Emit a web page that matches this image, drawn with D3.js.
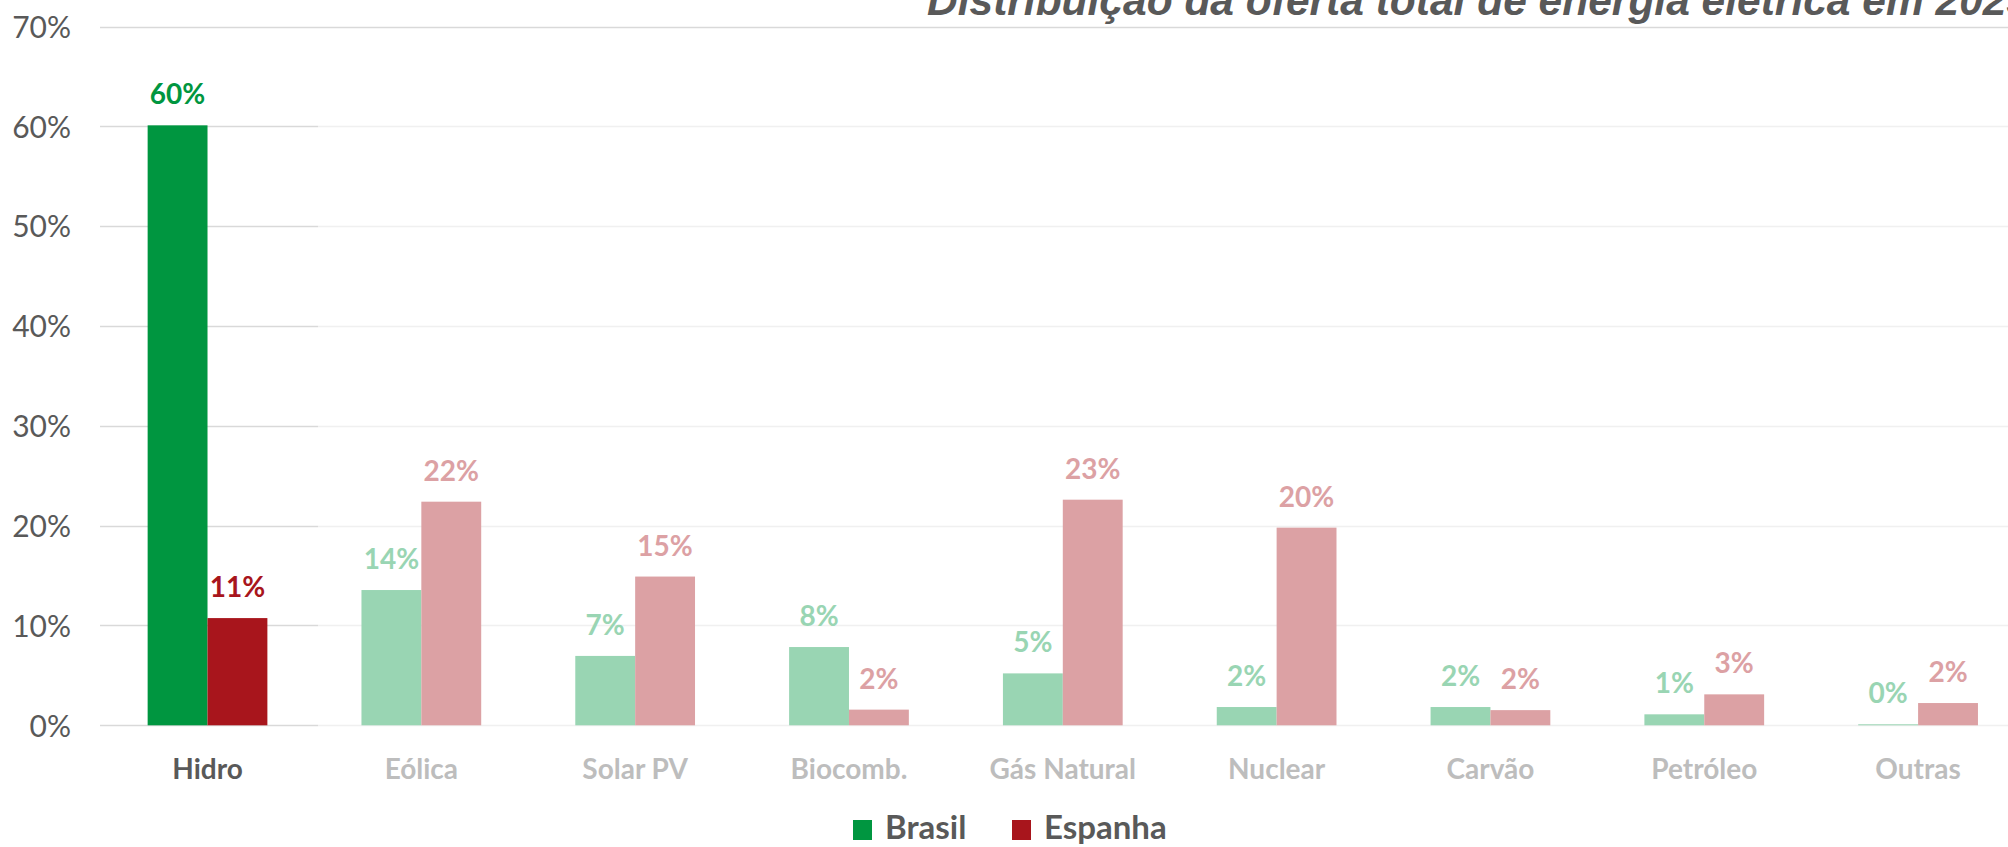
<!DOCTYPE html>
<html>
<head>
<meta charset="utf-8">
<script src="https://cdn.jsdelivr.net/npm/d3@7"></script>
<style>
  html, body { margin: 0; padding: 0; background: #ffffff; overflow: hidden; }
  svg { display: block; }
</style>
</head>
<body>
<script>
// ---- data ----
const categories = ["Hidro", "Eólica", "Solar PV", "Biocomb.", "Gás Natural", "Nuclear", "Carvão", "Petróleo", "Outras"];
const seriesNames = ["Brasil", "Espanha"];
const brasil  = [0.601, 0.1355, 0.0695, 0.0784, 0.052, 0.0183, 0.0183, 0.011, 0.001];
const espanha = [0.1074, 0.224, 0.149, 0.0157, 0.226, 0.198, 0.0152, 0.031, 0.0223];
const yTicks = [0, 0.1, 0.2, 0.3, 0.4, 0.5, 0.6, 0.7];
const highlighted = "Hidro";
const titleText = "Distribuição da oferta total de energia elétrica em 2023";

// ---- layout / style ----
const W = 2008, H = 847;
const colors = { Brasil: "#009640", Espanha: "#a8151c" };
const textGray = "#595959";
const fadeAmt = 0.6;
const fade = c => d3.interpolateRgb(c, "#ffffff")(fadeAmt);

const svg = d3.select("body").append("svg").attr("width", W).attr("height", H);

const y = d3.scaleLinear().domain([0, 0.7]).range([725.3, 26.5]);
const x0 = d3.scaleBand().domain(categories).range([100.6, 2025]).paddingInner(0.44).paddingOuter(0.22);
const x1 = d3.scaleBand().domain(seriesNames).range([0, x0.bandwidth()]).padding(0);
const fmt = d3.format(".0%");

// title (partially cropped at top / right, as in the reference)
svg.append("text")
  .attr("x", 927).attr("y", 15)
  .attr("font-family", "'Liberation Sans', Arial, sans-serif")
  .attr("font-weight", "bold").attr("font-style", "italic")
  .attr("font-size", 42.5).attr("fill", textGray)
  .text(titleText);

// gridlines: darker over highlighted region, faded beyond
const splitX = 318;
const grid = svg.append("g");
yTicks.forEach(t => {
  const yy = Math.round(y(t)) + 0.5;
  const top = t === 0.7;
  grid.append("line").attr("x1", 100).attr("x2", top ? W : splitX)
    .attr("y1", yy).attr("y2", yy).attr("stroke", "#d9d9d9").attr("stroke-width", 1.5);
  if (!top) {
    grid.append("line").attr("x1", splitX).attr("x2", W)
      .attr("y1", yy).attr("y2", yy).attr("stroke", fade("#d9d9d9")).attr("stroke-width", 1.5);
  }
});

// y axis labels
const yAxis = d3.axisLeft(y).tickValues(yTicks).tickFormat(fmt).tickSize(0).tickPadding(0);
const ga = svg.append("g").attr("transform", "translate(71,0)").call(yAxis);
ga.select(".domain").remove();
ga.selectAll("text")
  .attr("font-family", "Lato, 'Open Sans', sans-serif")
  .attr("font-size", 30).attr("fill", textGray).attr("dy", "0.36em");

// bars
const rows = categories.map((c, i) => ({ cat: c, vals: [
  { s: "Brasil", v: brasil[i] }, { s: "Espanha", v: espanha[i] } ] }));

const groups = svg.append("g").selectAll("g").data(rows).join("g")
  .attr("transform", d => `translate(${x0(d.cat)},0)`);

groups.selectAll("rect").data(d => d.vals.map(v => ({ ...v, cat: d.cat }))).join("rect")
  .attr("x", d => x1(d.s))
  .attr("width", x1.bandwidth())
  .attr("y", d => y(d.v))
  .attr("height", d => y(0) - y(d.v))
  .attr("fill", d => d.cat === highlighted ? colors[d.s] : fade(colors[d.s]));

groups.selectAll("text").data(d => d.vals.map(v => ({ ...v, cat: d.cat }))).join("text")
  .attr("x", d => x1(d.s) + x1.bandwidth() / 2)
  .attr("y", d => y(d.v) - 21)
  .attr("text-anchor", "middle")
  .attr("font-family", "Lato, 'Open Sans', sans-serif")
  .attr("font-weight", "bold").attr("font-size", 28)
  .attr("fill", d => d.cat === highlighted ? colors[d.s] : fade(colors[d.s]))
  .text(d => fmt(d.v));

// category axis
const xAxis = d3.axisBottom(x0).tickSize(0).tickPadding(0);
const gx = svg.append("g").attr("transform", "translate(0,779)").call(xAxis);
gx.select(".domain").remove();
gx.selectAll("text")
  .attr("dy", 0).attr("y", 0)
  .attr("font-family", "Lato, 'Open Sans', sans-serif")
  .attr("font-weight", "bold").attr("font-size", 28)
  .attr("fill", d => d === highlighted ? textGray : fade(textGray));

// legend
const legendPos = { Brasil: 853, Espanha: 1012 };
const lg = svg.append("g");
seriesNames.forEach(s => {
  lg.append("rect").attr("x", legendPos[s]).attr("y", 820).attr("width", 19).attr("height", 20)
    .attr("fill", colors[s]);
  lg.append("text").attr("x", legendPos[s] + 32).attr("y", 839)
    .attr("font-family", "Lato, 'Open Sans', sans-serif")
    .attr("font-weight", "bold").attr("font-size", 33).attr("fill", textGray)
    .text(s);
});
</script>
</body>
</html>
